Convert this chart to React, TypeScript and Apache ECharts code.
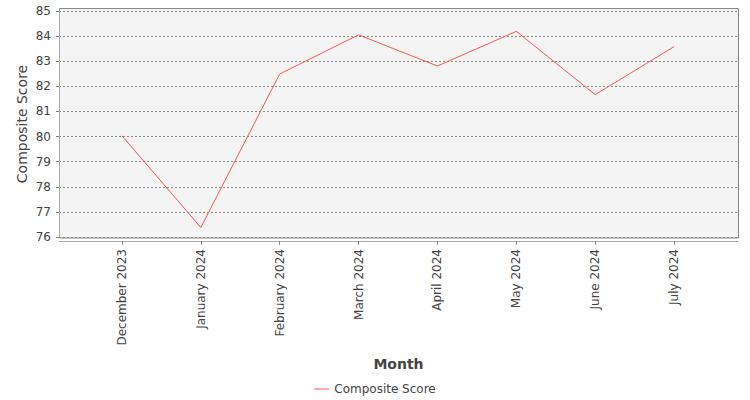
import { useEffect, useRef } from 'react';
import * as echarts from 'echarts';

const months = ['December 2023', 'January 2024', 'February 2024', 'March 2024', 'April 2024', 'May 2024', 'June 2024', 'July 2024'];
const scores = [80.03, 76.38, 82.49, 84.05, 82.81, 84.19, 81.67, 83.58];
const yMin = 76;
const yMax = 85;

const FONT = 'DejaVu Sans';
const RED = '#ff5555';

const App = () => {
    const chartRef = useRef<HTMLDivElement | null>(null);

    useEffect(() => {
        if (!chartRef.current) return;
        const chart = echarts.init(chartRef.current, undefined, { renderer: 'svg' });

        const option = {
            animation: false,
            textStyle: { fontFamily: FONT },
            graphic: [
                {
                    type: 'rect',
                    z: -10,
                    silent: true,
                    shape: { x: 59.5, y: 8.5, width: 679, height: 229.5 },
                    style: { fill: '#f4f4f4', stroke: '#888', lineWidth: 1 }
                }
            ],
            grid: [
                // full plot: y labels, gridlines, x axis line
                { left: 59, right: 12, top: 11, bottom: 163 },
                // inner band area for the categories
                { left: 82.5, right: 36.5, top: 11, bottom: 163 }
            ],
            xAxis: [
                {
                    type: 'value',
                    gridIndex: 0,
                    min: 0,
                    max: 1,
                    offset: 4,
                    axisLine: { show: true, lineStyle: { color: '#aaa' } },
                    axisTick: { show: false },
                    axisLabel: { show: false },
                    splitLine: { show: false },
                    name: 'Month',
                    nameLocation: 'middle',
                    nameGap: 116,
                    nameMoveOverlap: false,
                    nameTextStyle: { fontFamily: FONT, fontSize: 14, fontWeight: 'bold', color: '#444' }
                },
                {
                    type: 'category',
                    gridIndex: 1,
                    data: months,
                    boundaryGap: true,
                    offset: 4,
                    axisLine: { show: false },
                    axisTick: { show: true, alignWithLabel: true, length: 4, lineStyle: { color: '#888' } },
                    axisLabel: { rotate: 90, fontFamily: FONT, fontSize: 12, color: '#444', margin: 8, interval: 0 }
                }
            ],
            yAxis: [
                {
                    type: 'value',
                    gridIndex: 0,
                    min: yMin,
                    max: yMax,
                    interval: 1,
                    offset: 4,
                    axisLine: { show: true, lineStyle: { color: '#aaa' } },
                    axisTick: { show: true, length: 3, lineStyle: { color: '#888' } },
                    axisLabel: { fontFamily: FONT, fontSize: 12, color: '#444', margin: 4 },
                    splitLine: { show: true, lineStyle: { color: '#888', type: [2, 2], width: 1 } },
                    name: 'Composite Score',
                    nameLocation: 'middle',
                    nameGap: 26,
                    nameMoveOverlap: false,
                    nameTextStyle: { fontFamily: FONT, fontSize: 14, color: '#444' }
                },
                {
                    type: 'value',
                    gridIndex: 1,
                    min: yMin,
                    max: yMax,
                    show: false
                }
            ],
            legend: {
                bottom: 0,
                left: 'center',
                icon: 'rect',
                itemWidth: 15,
                itemHeight: 1,
                itemGap: 10,
                textStyle: { fontFamily: FONT, fontSize: 12, color: '#444' },
                data: ['Composite Score']
            },
            series: [
                {
                    name: 'Composite Score',
                    type: 'line',
                    xAxisIndex: 1,
                    yAxisIndex: 1,
                    data: scores,
                    showSymbol: false,
                    symbol: 'none',
                    lineStyle: { color: RED, width: 1 },
                    itemStyle: { color: RED }
                }
            ]
        };

        chart.setOption(option);
        return () => chart.dispose();
    }, []);

    return <div ref={chartRef} style={{ position: 'absolute', left: 0, top: 0, width: 750, height: 400 }} />;
};

export default App;
